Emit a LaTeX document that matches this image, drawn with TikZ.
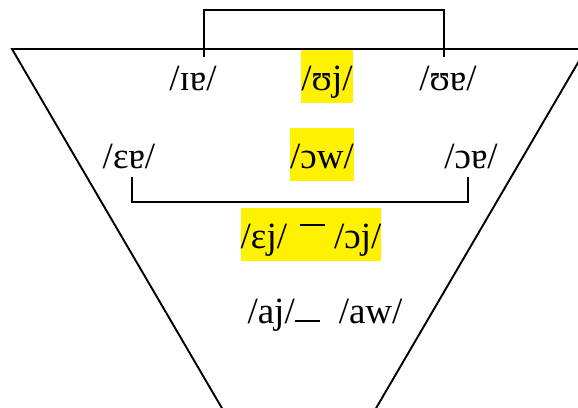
\documentclass[tikz,border=0pt]{standalone}
\usepackage{fontspec}
\setmainfont{Liberation Serif}
\usetikzlibrary{calc}

\begin{document}
\begin{tikzpicture}[x=1pt, y=-1pt, font=\fontsize{37}{40}\selectfont,
  ipa/.style={inner sep=0pt, anchor=base},
  hl/.style={ipa, fill=yellow, text height=40pt, text depth=13pt},
  ln/.style={line width=1.9pt, line join=miter}]
\useasboundingbox (0,0) rectangle (578,407);
\clip (0,0) rectangle (578,407);
\coordinate (tl) at (12,49); \coordinate (tr) at (586,49); \coordinate (bot) at (299,540);
\draw[ln] (tl) -- (tr) -- (bot) -- cycle;
\node[ipa] (ia) at (193,90) {/ɪɐ/};
\node[hl] (uj) at (327,90) {/ʊj/};
\node[ipa] (ua) at (448,90) {/ʊɐ/};
\node[ipa] (ea) at (129,168) {/ɛɐ/};
\node[hl] (ow) at (322,168) {/ɔw/};
\node[ipa] (oa) at (471,168) {/ɔɐ/};
\node[hl] (ejoj) at (311,248) {/ɛj/\hspace{13pt}\rule[22pt]{25pt}{1.6pt}\hspace{9pt}/ɔj/};
\node[ipa] (ajaw) at (325,323) {/aj/\rule[1pt]{25pt}{1.6pt}\hspace{19pt}/aw/};
\coordinate (ia top) at (204,57); \coordinate (ua top) at (444,57);
\coordinate (ea bot) at (132,177); \coordinate (oa bot) at (468,177);
\draw[ln] (ia top) -- ++(0,-47) -| (ua top);
\draw[ln] (ea bot) -- ++(0,25) -| (oa bot);
\end{tikzpicture}
\end{document}
